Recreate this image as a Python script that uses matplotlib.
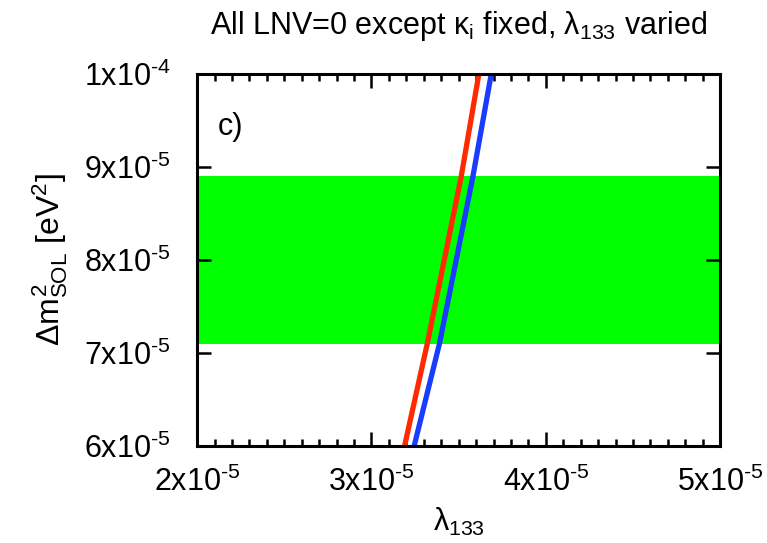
import matplotlib
matplotlib.use("Agg")
import matplotlib.pyplot as plt
from matplotlib.ticker import MultipleLocator

plt.rcParams["font.family"] = ["Liberation Sans", "DejaVu Sans"]
plt.rcParams["mathtext.fontset"] = "custom"
plt.rcParams["mathtext.rm"] = "Liberation Sans"
plt.rcParams["mathtext.it"] = "Liberation Sans"
plt.rcParams["mathtext.sf"] = "Liberation Sans"

# allowed band for dm^2_SOL
band_low = 7.1e-5
band_high = 8.9e-5

dm2 = [6.0e-5, 7.1e-5, 8.9e-5, 10.0e-5]
lam_red = [3.19e-5, 3.32e-5, 3.515e-5, 3.616e-5]
lam_blue = [3.245e-5, 3.39e-5, 3.582e-5, 3.687e-5]

x_ticks = [2e-5, 3e-5, 4e-5, 5e-5]
x_labels = [r"2x10$^{\text{-5}}$", r"3x10$^{\text{-5}}$", r"4x10$^{\text{-5}}$", r"5x10$^{\text{-5}}$"]
y_ticks = [6e-5, 7e-5, 8e-5, 9e-5, 1e-4]
y_labels = [r"6x10$^{\text{-5}}$", r"7x10$^{\text{-5}}$", r"8x10$^{\text{-5}}$",
            r"9x10$^{\text{-5}}$", r"1x10$^{\text{-4}}$"]

fig = plt.figure(figsize=(7.67, 5.43), dpi=100)
ax = fig.add_axes([0.257, 0.179, 0.682, 0.685])

ax.axhspan(band_low, band_high, color="#00ff00", lw=0, zorder=1)
ax.plot(lam_red, dm2, color="#ff2a00", lw=3.8, zorder=3)
ax.plot(lam_blue, dm2, color="#1a3cff", lw=3.8, zorder=3)

ax.set_xlim(2e-5, 5e-5)
ax.set_ylim(6e-5, 1e-4)
ax.set_xticks(x_ticks)
ax.set_xticklabels(x_labels)
ax.set_yticks(y_ticks)
ax.set_yticklabels(y_labels)
ax.xaxis.set_minor_locator(MultipleLocator(1e-6))

ax.tick_params(which="both", direction="in", top=True, right=True,
               width=1.8, labelsize=22, colors="black")
ax.tick_params(which="major", length=10)
ax.tick_params(axis="x", which="major", pad=15)
ax.tick_params(axis="y", which="major", pad=19)
ax.tick_params(which="minor", length=5)
for s in ax.spines.values():
    s.set_linewidth(2.2)
    s.set_zorder(4)

ax.set_xlabel(r"$\lambda_{133}$", fontsize=22, labelpad=6)
ax.set_ylabel(r"$\Delta m^2_{\rm SOL}$ [eV$^2$]", fontsize=23, labelpad=10)
ax.set_title(r"All LNV=0 except $\kappa_{\rm i}$ fixed, $\lambda_{133}$ varied",
             fontsize=22, pad=29)
ax.text(0.04, 0.857, "c)", transform=ax.transAxes, fontsize=22,
        ha="left", va="center")

fig.savefig("out.png", dpi=100)
